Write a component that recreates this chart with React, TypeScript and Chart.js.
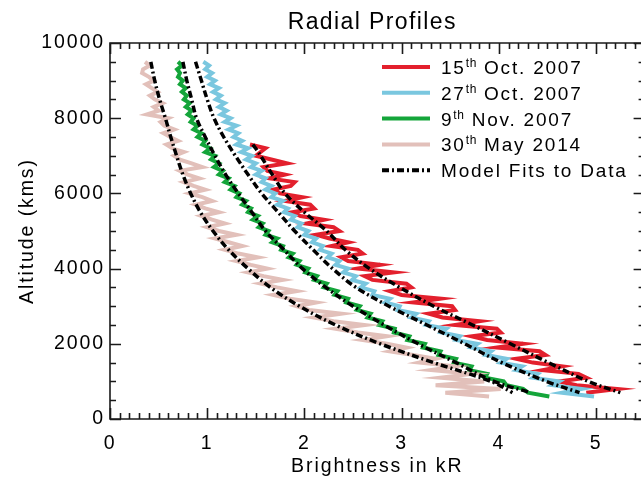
import React, { useEffect, useRef } from 'react';
import { Chart, registerables } from 'chart.js';

Chart.register(...registerables);

const FONT_FAMILY = "'Liberation Sans', Arial, sans-serif";
const FONT_SIZE = 19.5;
const LETTER_SPACING = '1.9px';
const TITLE = 'Radial Profiles';
const X_TITLE = 'Brightness in kR';
const Y_TITLE = 'Altitude (kms)';

const X_MIN = 0;
const X_MAX = 5.5;
const Y_MIN = 0;
const Y_MAX = 10000;
const X_TICKS = [0, 1, 2, 3, 4, 5];
const Y_TICKS = [0, 2000, 4000, 6000, 8000, 10000];
const X_MINOR_STEP = 0.1;
const Y_MINOR_STEP = 500;

const RED = '#E3202D';
const BLUE = '#7AC7DF';
const GREEN = '#14A53A';
const PINK = '#E2C0BA';

// Altitudes (km) of the measured profiles
const ALT_PROFILE = [
  9500, 9400, 9300, 9200, 9100, 9000, 8900, 8800, 8700, 8600,
  8500, 8400, 8300, 8200, 8100, 8000, 7900, 7800, 7700, 7600,
  7500, 7400, 7300, 7200, 7100, 7000, 6900, 6800, 6700, 6600,
  6500, 6400, 6300, 6200, 6100, 6000, 5900, 5800, 5700, 5600,
  5500, 5400, 5300, 5200, 5100, 5000, 4900, 4800, 4700, 4600,
  4500, 4400, 4300, 4200, 4100, 4000, 3900, 3800, 3700, 3600,
  3500, 3400, 3300, 3200, 3100, 3000, 2900, 2800, 2700, 2600,
  2500, 2400, 2300, 2200, 2100, 2000, 1900, 1800, 1700, 1600,
  1500, 1400, 1300, 1200, 1100, 1000, 900, 800, 700, 600,
];
const ALT_OCT15 = [
  7300, 7200, 7100, 7000, 6900, 6800, 6700, 6600, 6500, 6400,
  6300, 6200, 6100, 6000, 5900, 5800, 5700, 5600, 5500, 5400,
  5300, 5200, 5100, 5000, 4900, 4800, 4700, 4600, 4500, 4400,
  4300, 4200, 4100, 4000, 3900, 3800, 3700, 3600, 3500, 3400,
  3300, 3200, 3100, 3000, 2900, 2800, 2700, 2600, 2500, 2400,
  2300, 2200, 2100, 2000, 1900, 1800, 1700, 1600, 1500, 1400,
  1300, 1200, 1100, 1000, 900, 800, 700,
];

// Brightness (kR) of the measured profiles
const DATA_OCT15 = [
  1.44, 1.60, 1.55, 1.50, 1.66, 1.82, 1.58, 1.62, 1.80, 1.64,
  1.90, 1.86, 1.68, 1.75, 1.98, 1.80, 2.06, 2.10, 1.88, 1.96,
  2.20, 2.02, 2.30, 2.36, 2.12, 2.26, 2.45, 2.28, 2.55, 2.60,
  2.38, 2.45, 2.78, 2.55, 2.92, 2.62, 2.70, 3.05, 3.10, 2.88,
  3.00, 3.40, 3.12, 3.52, 3.55, 3.28, 3.42, 3.80, 3.55, 3.98,
  4.02, 3.72, 3.88, 4.25, 3.98, 4.42, 4.48, 4.18, 4.35, 4.65,
  4.45, 4.82, 4.90, 4.62, 4.80, 5.22, 4.90,
];
const DATA_OCT27 = [
  0.96, 1.02, 0.98, 1.05, 1.00, 1.08, 1.03, 1.12, 1.06, 1.14,
  1.09, 1.18, 1.12, 1.20, 1.14, 1.24, 1.18, 1.30, 1.22, 1.32,
  1.27, 1.36, 1.30, 1.42, 1.35, 1.46, 1.40, 1.50, 1.45, 1.56,
  1.50, 1.60, 1.56, 1.66, 1.60, 1.70, 1.66, 1.78, 1.72, 1.83,
  1.79, 1.90, 1.86, 1.97, 1.93, 2.04, 2.00, 2.12, 2.08, 2.19,
  2.16, 2.28, 2.24, 2.36, 2.32, 2.45, 2.40, 2.53, 2.49, 2.63,
  2.58, 2.72, 2.70, 2.88, 2.83, 2.98, 2.96, 3.15, 3.10, 3.28,
  3.25, 3.46, 3.41, 3.60, 3.56, 3.78, 3.72, 3.92, 3.87, 4.08,
  4.02, 4.24, 4.18, 4.40, 4.35, 4.62, 4.55, 4.85, 4.65, 4.98,
];
const DATA_NOV9 = [
  0.70, 0.74, 0.69, 0.72, 0.70, 0.75, 0.72, 0.78, 0.74, 0.79,
  0.76, 0.82, 0.78, 0.84, 0.80, 0.86, 0.83, 0.90, 0.86, 0.94,
  0.90, 0.98, 0.95, 1.03, 0.98, 1.08, 1.04, 1.12, 1.07, 1.16,
  1.12, 1.22, 1.18, 1.28, 1.24, 1.33, 1.30, 1.40, 1.36, 1.45,
  1.42, 1.52, 1.47, 1.57, 1.53, 1.63, 1.60, 1.72, 1.67, 1.78,
  1.76, 1.88, 1.84, 1.95, 1.92, 2.04, 2.01, 2.13, 2.10, 2.23,
  2.20, 2.34, 2.31, 2.45, 2.43, 2.57, 2.54, 2.68, 2.65, 2.80,
  2.77, 2.93, 2.92, 3.08, 3.06, 3.24, 3.22, 3.40, 3.38, 3.56,
  3.54, 3.72, 3.70, 3.88, 3.86, 4.05, 4.08, 4.25, 4.30, 4.52,
];
const DATA_MAY14 = [
  0.36, 0.41, 0.34, 0.33, 0.40, 0.45, 0.37, 0.43, 0.49, 0.41,
  0.46, 0.54, 0.45, 0.50, 0.38, 0.60, 0.52, 0.56, 0.66, 0.55,
  0.62, 0.70, 0.58, 0.64, 0.76, 0.66, 0.72, 0.84, 0.95, 0.72,
  0.80, 0.92, 0.76, 0.86, 0.98, 0.82, 0.95, 1.05, 0.88, 0.98,
  1.12, 0.94, 1.05, 1.18, 1.00, 1.12, 1.30, 1.08, 1.22, 1.36,
  1.18, 1.32, 1.52, 1.30, 1.45, 1.62, 1.42, 1.58, 1.78, 1.55,
  1.72, 1.92, 1.68, 1.85, 2.12, 1.92, 2.05, 2.38, 2.10, 2.30,
  2.62, 2.32, 2.55, 2.85, 2.60, 2.85, 3.05, 2.88, 3.12, 3.35,
  3.18, 3.55, 3.30, 3.72, 3.40, 3.85, 3.35, 4.02, 3.45, 3.90,
];

// Model fits
const FIT_ALT = [9500, 9000, 8500, 8000, 7500, 7000, 6500, 6000, 5500, 5000, 4500, 4000, 3500, 3000, 2500, 2000, 1500, 1000, 700];
const FIT_ALT_OCT15 = [7300, 7000, 6500, 6000, 5500, 5000, 4500, 4000, 3500, 3000, 2500, 2000, 1500, 1000, 700];
const FIT_OCT15 = [1.47, 1.55, 1.67, 1.80, 2.00, 2.23, 2.42, 2.67, 2.98, 3.33, 3.73, 4.12, 4.51, 4.92, 5.25];
const FIT_OCT27 = [0.88, 0.94, 1.00, 1.07, 1.17, 1.29, 1.42, 1.56, 1.73, 1.90, 2.09, 2.29, 2.53, 2.87, 3.26, 3.65, 4.03, 4.49, 4.83];
const FIT_NOV9 = [0.75, 0.79, 0.84, 0.89, 0.98, 1.08, 1.19, 1.32, 1.46, 1.60, 1.79, 1.98, 2.22, 2.50, 2.82, 3.17, 3.56, 3.95, 4.33];
const FIT_MAY14 = [0.42, 0.46, 0.51, 0.57, 0.625, 0.685, 0.75, 0.83, 0.93, 1.06, 1.22, 1.42, 1.65, 1.95, 2.32, 2.78, 3.33, 3.92, 4.14];

const LEGEND_ITEMS = [
  { main: '15', sup: 'th', rest: ' Oct. 2007', color: RED, dashed: false },
  { main: '27', sup: 'th', rest: ' Oct. 2007', color: BLUE, dashed: false },
  { main: '9', sup: 'th', rest: ' Nov. 2007', color: GREEN, dashed: false },
  { main: '30', sup: 'th', rest: ' May 2014', color: PINK, dashed: false },
  { main: 'Model Fits to Data', sup: '', rest: '', color: '#000', dashed: true },
];

const FIT_DASH = [7, 3, 2, 3];

function pts(xs: number[], ys: number[]) {
  return xs.map((x, i) => ({ x, y: ys[i] }));
}

const framePlugin = {
  id: 'idlFrame',
  beforeDraw(chart: any) {
    (chart.ctx as any).letterSpacing = LETTER_SPACING;
  },
  afterDraw(chart: any) {
    const ctx = chart.ctx as CanvasRenderingContext2D;
    const { left, right, top, bottom } = chart.chartArea;
    const xs = chart.scales.x;
    const ys = chart.scales.y;
    ctx.save();
    ctx.strokeStyle = '#1a1a1a';
    ctx.lineWidth = 1.6;
    ctx.beginPath();
    ctx.rect(left, top, right - left, bottom - top);
    ctx.stroke();
    ctx.beginPath();
    const nx = Math.round((X_MAX - X_MIN) / X_MINOR_STEP);
    for (let i = 0; i <= nx; i++) {
      const v = X_MIN + i * X_MINOR_STEP;
      const px = Math.round(xs.getPixelForValue(v)) + 0.5;
      const major = X_TICKS.some((t) => Math.abs(t - v) < 1e-6);
      const len = major ? 11 : 6;
      ctx.moveTo(px, bottom);
      ctx.lineTo(px, bottom - len);
      ctx.moveTo(px, top);
      ctx.lineTo(px, top + len);
    }
    const ny = Math.round((Y_MAX - Y_MIN) / Y_MINOR_STEP);
    for (let i = 0; i <= ny; i++) {
      const v = Y_MIN + i * Y_MINOR_STEP;
      const py = Math.round(ys.getPixelForValue(v)) + 0.5;
      const major = Y_TICKS.some((t) => Math.abs(t - v) < 1e-6);
      const len = major ? 11 : 6;
      ctx.moveTo(left, py);
      ctx.lineTo(left + len, py);
      ctx.moveTo(right, py);
      ctx.lineTo(right - len, py);
    }
    ctx.stroke();

    // Title
    ctx.fillStyle = '#000';
    (ctx as any).letterSpacing = '1.4px';
    ctx.font = `23px ${FONT_FAMILY}`;
    ctx.textAlign = 'center';
    ctx.textBaseline = 'alphabetic';
    ctx.fillText(TITLE, (left + right) / 2 - 5, 29);

    // Legend
    const lx0 = left + 272;
    const lx1 = left + 320;
    const tx = left + 331;
    const ly0 = top + 24;
    const dy = 25.8;
    LEGEND_ITEMS.forEach((it, i) => {
      const y = ly0 + i * dy;
      ctx.save();
      ctx.strokeStyle = it.color;
      ctx.lineWidth = 4;
      ctx.lineCap = 'butt';
      if (it.dashed) ctx.setLineDash(FIT_DASH);
      ctx.beginPath();
      ctx.moveTo(lx0, y);
      ctx.lineTo(lx1, y);
      ctx.stroke();
      ctx.restore();
      const base = y + 7;
      ctx.textAlign = 'left';
      ctx.fillStyle = '#000';
      (ctx as any).letterSpacing = '1.8px';
      ctx.font = `19px ${FONT_FAMILY}`;
      let x = tx;
      ctx.fillText(it.main, x, base);
      x += ctx.measureText(it.main).width;
      if (it.sup) {
        (ctx as any).letterSpacing = '0.6px';
        ctx.font = `12px ${FONT_FAMILY}`;
        ctx.fillText(it.sup, x, base - 7);
        x += ctx.measureText(it.sup).width;
        (ctx as any).letterSpacing = '1.8px';
        ctx.font = `19px ${FONT_FAMILY}`;
        ctx.fillText(it.rest, x, base);
      }
    });
    ctx.restore();
  },
};

export default function App() {
  const ref = useRef<HTMLCanvasElement | null>(null);
  useEffect(() => {
    if (!ref.current) return;
    const dataLine = (label: string, xs: number[], ys: number[], color: string) => ({
      label,
      data: pts(xs, ys),
      showLine: true,
      borderColor: color,
      backgroundColor: color,
      borderWidth: 4,
      pointRadius: 0,
      tension: 0,
      order: 2,
    });
    const fitLine = (label: string, xs: number[], ys: number[]) => ({
      label,
      data: pts(xs, ys),
      showLine: true,
      borderColor: '#000',
      backgroundColor: '#000',
      borderWidth: 3.5,
      borderDash: FIT_DASH,
      borderCapStyle: 'butt',
      pointRadius: 0,
      tension: 0.35,
      order: 1,
    });
    const tickFont = { family: FONT_FAMILY, size: FONT_SIZE };
    const chart = new Chart(ref.current, {
      type: 'scatter',
      data: {
        datasets: [
          dataLine('30th May 2014', DATA_MAY14, ALT_PROFILE, PINK),
          dataLine('9th Nov. 2007', DATA_NOV9, ALT_PROFILE, GREEN),
          dataLine('27th Oct. 2007', DATA_OCT27, ALT_PROFILE, BLUE),
          dataLine('15th Oct. 2007', DATA_OCT15, ALT_OCT15, RED),
          fitLine('Fit 30th May 2014', FIT_MAY14, FIT_ALT),
          fitLine('Fit 9th Nov. 2007', FIT_NOV9, FIT_ALT),
          fitLine('Fit 27th Oct. 2007', FIT_OCT27, FIT_ALT),
          fitLine('Fit 15th Oct. 2007', FIT_OCT15, FIT_ALT_OCT15),
        ] as any,
      },
      options: {
        animation: false,
        responsive: false,
        layout: { padding: { left: 0, top: 43, right: 15.4, bottom: 0 } },
        plugins: {
          legend: { display: false },
          tooltip: { enabled: false },
          title: { display: false },
        },
        scales: {
          x: {
            type: 'linear',
            min: X_MIN,
            max: X_MAX,
            afterBuildTicks: (s: any) => {
              s.ticks = X_TICKS.map((v) => ({ value: v }));
            },
            afterFit: (s: any) => {
              s.height = 63;
            },
            grid: { display: false, drawTicks: false },
            border: { display: false },
            ticks: {
              font: tickFont,
              color: '#000',
              padding: 13,
              maxRotation: 0,
              autoSkip: false,
              callback: (v: any) => String(v),
            },
            title: {
              display: true,
              text: X_TITLE,
              font: tickFont,
              color: '#000',
              padding: { top: 0, bottom: 4 },
            },
          },
          y: {
            type: 'linear',
            min: Y_MIN,
            max: Y_MAX,
            afterBuildTicks: (s: any) => {
              s.ticks = Y_TICKS.map((v) => ({ value: v }));
            },
            afterFit: (s: any) => {
              s.width = 110;
            },
            grid: { display: false, drawTicks: false },
            border: { display: false },
            ticks: {
              font: tickFont,
              color: '#000',
              padding: 5,
              autoSkip: false,
              callback: (v: any) => String(v),
            },
            title: {
              display: true,
              text: Y_TITLE,
              font: tickFont,
              color: '#000',
              padding: { top: 16, bottom: 0 },
            },
          },
        },
      } as any,
      plugins: [framePlugin],
    });
    return () => chart.destroy();
  }, []);
  return (
    <div
      style={{
        position: 'fixed',
        left: 0,
        top: 0,
        width: 641,
        height: 482,
        overflow: 'hidden',
        background: '#fff',
      }}
    >
      <canvas ref={ref} width={660} height={482} style={{ display: 'block' }} />
    </div>
  );
}
